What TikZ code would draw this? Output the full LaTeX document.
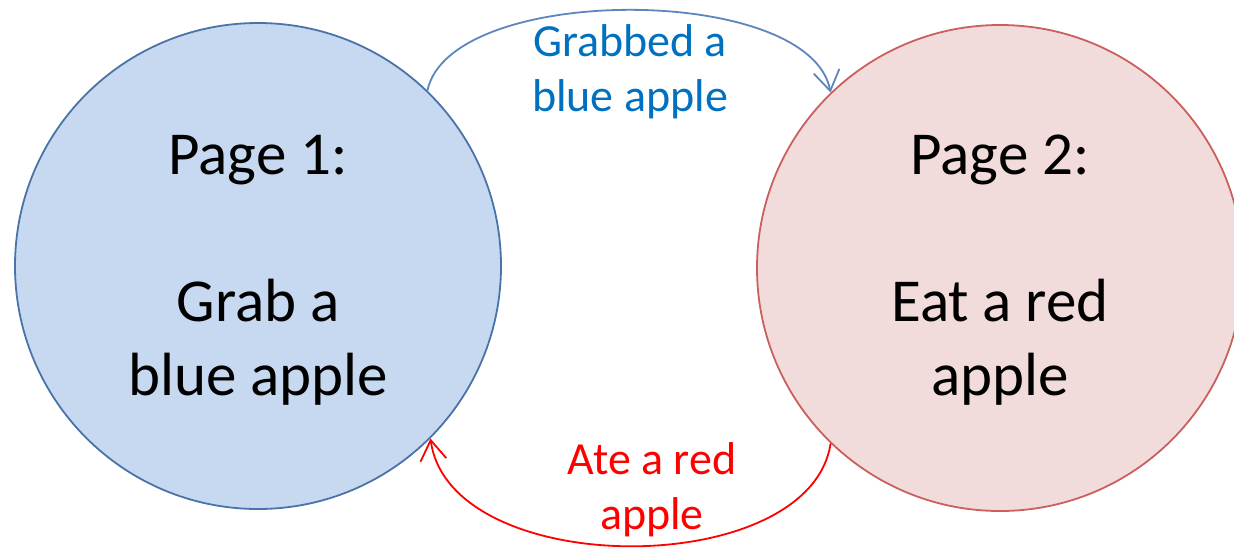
\documentclass[tikz,border=0pt]{standalone}
\usepackage{fontspec}
\setmainfont{Carlito}
\usetikzlibrary{arrows.meta}
\definecolor{bluefill}{HTML}{C6D9F1}
\definecolor{blueline}{HTML}{4A73A8}
\definecolor{redfill}{HTML}{F2DCDB}
\definecolor{redline}{HTML}{C9605D}
\definecolor{bluetext}{HTML}{0070C0}
\definecolor{arcblue}{HTML}{5B86BF}
\definecolor{arcred}{HTML}{FF0000}
\tikzset{
  page/.style={circle, draw, line width=1.8pt, minimum size=486pt, inner sep=0pt,
    align=center, font=\fontsize{61}{73.5}\selectfont},
  bluepage/.style={page, fill=bluefill, draw=blueline},
  redpage/.style={page, fill=redfill, draw=redline},
  lbl/.style={align=center, inner sep=0pt, font=\fontsize{46}{55}\selectfont},
  arc/.style={line width=1.8pt, -{Straight Barb[length=20pt,width=26pt,line width=1.8pt]}}
}
\begin{document}
\begin{tikzpicture}[x=1pt,y=-1pt]
\useasboundingbox (0,0) rectangle (1234,547);
\node[bluepage, text depth=1pt] (p1) at (258,266) {Page 1:\\[73.5pt]Grab a\\blue apple};
\node[redpage, text depth=6pt] (p2) at (1000,268) {Page 2:\\[73.5pt]Eat a red\\apple};
\node[lbl, text=bluetext] (l1) at (630,72) {Grabbed a\\blue apple};
\node[lbl, text=arcred] (l2) at (652,490) {Ate a red\\apple};
\draw[arc, arcblue] (p1.46) .. controls (450,-17) and (810,-17) .. (p2.134);
\draw[arc, arcred] (p2.226) .. controls (810,581) and (450,581) .. (p1.315);
\end{tikzpicture}
\end{document}
